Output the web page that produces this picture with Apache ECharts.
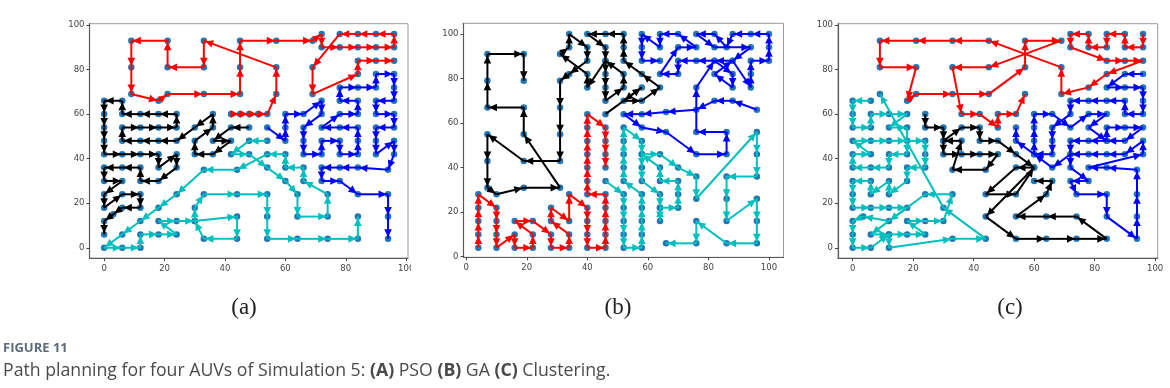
<!DOCTYPE html>
<html>
<head>
<meta charset="utf-8">
<style>html,body{margin:0;padding:0;background:#fff}#c{width:1170px;height:388px}</style>
<script src="https://cdn.jsdelivr.net/npm/echarts@6/dist/echarts.min.js"></script>
</head>
<body>
<div id="c"></div>
<script>
const xTicks = [0,20,40,60,80,100];
const yTicks = [0,20,40,60,80,100];
const panelLabels = ['(a)','(b)','(c)'];

const aRed = [[42,60],[45,60],[48,60],[51,60],[54,60],[57,69],[57,81],[33,93],[33,81],[21,81],[21,93],[9,93],[9,81],[9,69],[18,66],[21,69],[33,69],[45,69],[45,81],[45,93],[57,93],[69,93],[72,96],[72,90],[78,90],[84,90],[90,90],[96,90],[96,96],[90,96],[84,96],[78,96],[69,81],[69,69],[84,78],[84,84],[90,84],[96,84]];
const aBlack = [[48,54],[42,54],[36,48],[42,48],[36,42],[30,42],[30,48],[36,54],[36,60],[30,54],[24,48],[18,48],[12,48],[6,48],[6,54],[12,54],[18,54],[24,54],[24,60],[18,60],[12,60],[6,60],[6,66],[0,66],[0,60],[0,54],[0,48],[0,42],[6,42],[12,42],[18,42],[18,36],[24,42],[24,36],[18,30],[12,30],[12,36],[6,36],[0,36],[0,30],[6,30],[0,24],[0,18],[6,24],[12,24],[12,18],[6,18],[3,15],[0,12],[0,6]];
const aTeal = [[54,48],[48,48],[42,42],[48,42],[54,36],[60,30],[64,24],[64,14],[74,14],[74,24],[66,30],[66,36],[60,36],[60,42],[54,42],[44,35],[33,35],[24,24],[18,18],[12,12],[6,6],[0,0],[6,0],[12,0],[12,6],[18,6],[24,6],[18,12],[24,12],[30,12],[44,14],[44,4],[33,4],[30,12],[30,18],[33,24],[44,24],[54,24],[54,14],[54,4],[64,4],[74,4],[84,4],[84,14]];
const aBlue = [[54,54],[60,48],[60,54],[60,60],[66,60],[72,66],[72,60],[66,54],[66,48],[66,42],[72,42],[72,48],[78,48],[78,42],[84,42],[84,48],[84,54],[78,54],[72,54],[78,60],[84,60],[84,66],[78,66],[78,72],[84,72],[90,72],[90,78],[96,78],[96,72],[96,66],[90,66],[90,60],[96,60],[96,54],[90,54],[90,48],[90,42],[96,48],[96,42],[94,35],[84,36],[78,36],[72,36],[72,30],[78,30],[84,24],[94,24],[94,14],[94,4]];

const bRed = [[4,4],[4,10],[4,16],[4,22],[4,28],[10,22],[10,16],[10,10],[10,4],[16,10],[16,4],[22,4],[22,10],[16,16],[22,16],[28,10],[28,4],[34,4],[34,10],[28,16],[28,22],[34,16],[34,28],[40,22],[40,16],[40,10],[40,4],[46,4],[46,10],[46,16],[46,22],[46,28],[40,28],[40,34],[40,40],[40,46],[40,52],[40,58],[40,64],[46,58],[46,52],[46,46],[46,40]];
const bBlack = [[46,64],[58,76],[52,70],[58,70],[64,76],[58,82],[52,88],[52,94],[52,100],[46,100],[40,100],[46,94],[46,88],[46,82],[46,76],[46,70],[52,76],[52,82],[46,88],[40,76],[40,82],[31,91],[34,94],[34,100],[40,94],[40,88],[34,82],[31,79],[31,67],[31,55],[31,43],[19,43],[7,55],[7,43],[7,31],[10,28],[19,31],[31,31],[19,55],[19,67],[7,67],[7,79],[7,91],[19,91],[19,79]];
const bTeal = [[46,34],[52,28],[52,22],[52,16],[52,10],[52,4],[58,4],[58,10],[58,16],[58,22],[58,28],[52,34],[52,40],[52,46],[52,52],[52,58],[58,52],[58,46],[58,40],[58,34],[64,28],[64,22],[64,16],[64,22],[70,22],[70,28],[70,34],[64,34],[64,40],[58,46],[64,46],[70,40],[76,36],[76,26],[96,56],[96,46],[96,36],[86,36],[86,26],[86,16],[96,26],[96,16],[96,6],[86,6],[76,16],[76,6],[66,6]];
const bBlue = [[96,66],[88,70],[82,70],[76,66],[66,65],[58,64],[52,64],[58,58],[66,56],[76,46],[86,46],[86,56],[76,56],[76,76],[82,88],[88,82],[88,76],[82,82],[88,88],[94,76],[94,82],[94,88],[100,88],[100,94],[100,100],[94,100],[88,100],[86,94],[82,100],[76,100],[82,94],[94,94],[88,88],[82,88],[76,88],[70,88],[70,82],[64,82],[70,94],[76,94],[70,100],[64,100],[64,94],[58,100],[58,94],[58,88],[64,88]];

const cRed = [[96,96],[96,90],[90,90],[90,96],[84,96],[84,90],[78,90],[78,96],[72,96],[72,90],[84,84],[90,84],[96,84],[84,78],[78,72],[69,69],[69,81],[45,93],[33,93],[21,93],[9,93],[9,81],[21,81],[18,66],[21,69],[33,69],[45,69],[57,81],[57,93],[69,93],[45,81],[33,81],[36,60],[42,60],[48,54],[48,60],[54,60],[57,69]];
const cBlack = [[24,60],[24,54],[30,54],[30,48],[30,42],[36,42],[42,42],[48,42],[44,35],[33,35],[36,48],[30,48],[36,54],[42,54],[42,48],[48,48],[54,42],[60,36],[54,36],[44,24],[54,24],[60,36],[44,14],[54,4],[64,4],[74,4],[84,4],[74,14],[64,14],[54,14],[64,24],[66,30],[60,30]];
const cTeal = [[6,66],[0,66],[0,60],[0,54],[6,54],[6,60],[12,60],[18,60],[12,54],[18,54],[18,42],[12,42],[12,36],[6,36],[0,36],[0,42],[6,42],[0,48],[6,48],[12,48],[18,48],[24,48],[24,42],[24,36],[18,36],[18,30],[12,24],[12,30],[6,24],[6,30],[0,30],[0,24],[0,18],[6,18],[12,18],[18,18],[12,12],[3.5,14],[0,12],[0,6],[0,0],[6,0],[12,6],[18,6],[24,6],[18,12],[24,12],[30,12],[33,24],[24,24],[6,6],[12,6],[12,0],[33,4],[44,4],[30,18],[9,69]];
const cBlue = [[96,78],[90,78],[84,72],[90,72],[96,72],[96,66],[96,60],[90,60],[90,66],[84,66],[78,66],[72,66],[72,60],[66,54],[66,48],[66,42],[60,42],[60,48],[60,54],[60,60],[66,60],[72,54],[78,60],[84,60],[78,54],[84,48],[84,54],[90,54],[96,54],[90,48],[84,48],[78,48],[72,48],[72,42],[72,36],[78,30],[72,30],[74,24],[84,24],[84,14],[94,4],[94,14],[94,24],[94,35],[84,36],[78,36],[96,42],[96,48],[90,42],[84,42],[78,42],[72,42],[66,36],[60,42],[54,48],[54,54]];

const panels = [
  {box:[89.5,23.7,318.5,234.3], xr:[-4.85,100.6], yr:[-4.6,100.6], paths:[aRed,aBlack,aTeal,aBlue]},
  {box:[463.5,23.3,320,234], xr:[-0.9,104.8], yr:[-0.27,104.8], paths:[bRed,bBlack,bTeal,bBlue]},
  {box:[838,23.7,319.7,234.3], xr:[-4.85,100.85], yr:[-4.6,100.6], paths:[cRed,cBlack,cTeal,cBlue]}
];
const colors = ['#ff0000','#000000','#00bfbf','#0000ff'];

function segments(path){
  const out=[];
  for(let i=0;i<path.length-1;i++) out.push([path[i][0],path[i][1],path[i+1][0],path[i+1][1]]);
  return out;
}
function renderArrow(color){
  return function(params,api){
    const a=api.coord([api.value(0),api.value(1)]);
    const b=api.coord([api.value(2),api.value(3)]);
    const dx=b[0]-a[0],dy=b[1]-a[1],len=Math.hypot(dx,dy)||1;
    const ux=dx/len,uy=dy/len,hl=8,hw=3.8,gap=1.5;
    const tip=[b[0]-ux*gap,b[1]-uy*gap];
    const base=[tip[0]-ux*hl,tip[1]-uy*hl];
    return {type:'group',children:[
      {type:'line',shape:{x1:a[0],y1:a[1],x2:b[0],y2:b[1]},style:{stroke:color,lineWidth:2}},
      {type:'polygon',shape:{points:[tip,[base[0]-uy*hw,base[1]+ux*hw],[base[0]+uy*hw,base[1]-ux*hw]]},style:{fill:color}}
    ]};
  };
}

const grid=[],xAxis=[],yAxis=[],series=[];
panels.forEach((p,i)=>{
  grid.push({left:p.box[0],top:p.box[1],width:p.box[2],height:p.box[3],show:true,borderColor:'#9a9a9a',borderWidth:1,backgroundColor:'#fff'});
  const axisBase={
    axisLine:{show:true,onZero:false,lineStyle:{color:'#5a5a5a',width:1.2}},
    splitLine:{show:false}
  };
  xAxis.push(Object.assign({},axisBase,{type:'value',gridIndex:i,min:p.xr[0],max:p.xr[1],
    axisTick:{show:true,length:3,customValues:xTicks,lineStyle:{color:'#444'}},
    axisLabel:{customValues:xTicks,color:'#444',fontSize:8.5,fontFamily:'DejaVu Sans',margin:6,showMinLabel:true,showMaxLabel:true,hideOverlap:false}}));
  yAxis.push(Object.assign({},axisBase,{type:'value',gridIndex:i,min:p.yr[0],max:p.yr[1],
    axisTick:{show:true,length:3,customValues:yTicks,lineStyle:{color:'#444'}},
    axisLabel:{customValues:yTicks,color:'#444',fontSize:8.5,fontFamily:'DejaVu Sans',margin:5,showMinLabel:true,showMaxLabel:true,hideOverlap:false}}));
  const all=[];
  p.paths.forEach(path=>path.forEach(pt=>all.push(pt)));
  series.push({type:'scatter',xAxisIndex:i,yAxisIndex:i,data:all,symbolSize:6.5,itemStyle:{color:'#2277b5',opacity:1},silent:true,z:2,animation:false});
  p.paths.forEach((path,k)=>{
    series.push({type:'custom',xAxisIndex:i,yAxisIndex:i,coordinateSystem:'cartesian2d',data:segments(path),
      encode:{x:[0,2],y:[1,3]},renderItem:renderArrow(colors[k]),silent:true,z:3,animation:false});
  });
});

const labelXs=[244,618,1010];
const graphic=[
  {type:'rect',z:50,shape:{x:411,y:258,width:20,height:18},style:{fill:'#fff'}},
  ...panelLabels.map((t,i)=>({type:'text',z:60,x:labelXs[i],y:308,style:{text:t,font:'23px "Liberation Serif"',fill:'#222',textAlign:'center',textVerticalAlign:'middle'}})),
  {type:'text',z:60,x:3,y:348,style:{text:'FIGURE 11',font:'bold 13px "Open Sans"',fill:'#5b6b7b',textVerticalAlign:'middle'}},
  {type:'text',z:60,x:3,y:371,style:{
    text:'Path planning for four AUVs of Simulation 5: {b|(A)} PSO {b|(B)} GA {b|(C)} Clustering.',
    font:'17.7px "Open Sans"',fill:'#4a4a4a',textVerticalAlign:'middle',
    rich:{b:{font:'bold 17.7px "Open Sans"',fill:'#4a4a4a'}}
  }}
];

const chart=echarts.init(document.getElementById('c'),null,{renderer:'canvas',width:1170,height:388});
chart.setOption({animation:false,backgroundColor:'#fff',grid,xAxis,yAxis,series,graphic});
</script>
</body>
</html>
